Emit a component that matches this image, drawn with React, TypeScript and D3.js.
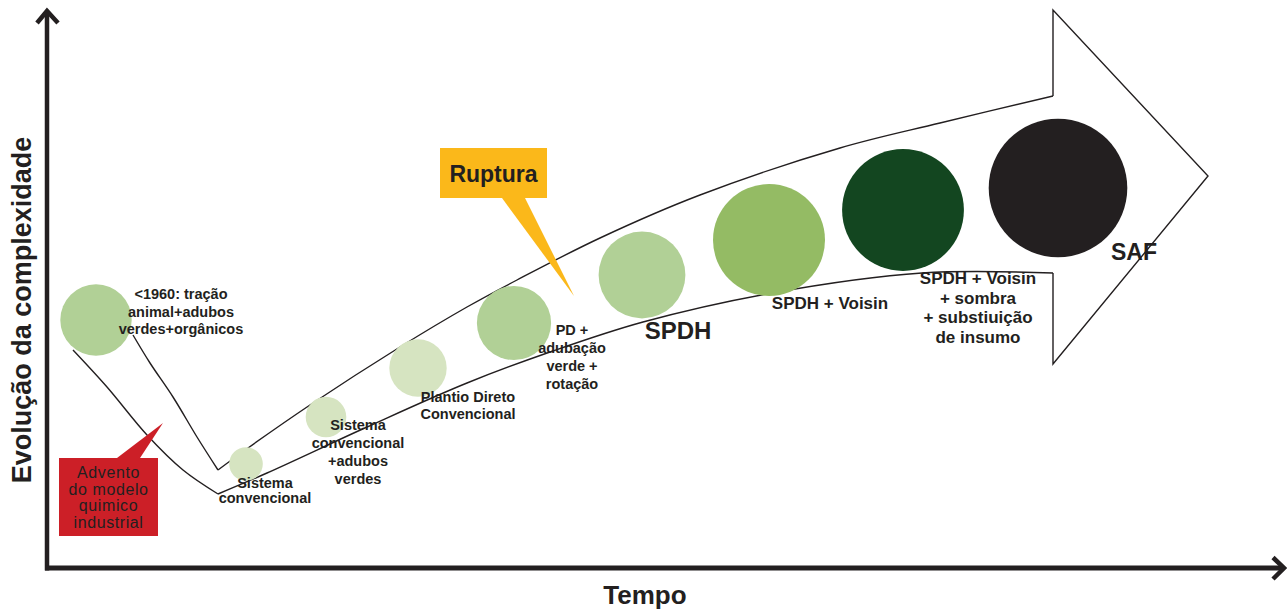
import React from "react";
import * as d3 from "d3";

// ---- Data (time units, complexity units) ----
const stageNames = [
  "<1960",
  "Sistema convencional",
  "Sistema convencional +adubos verdes",
  "Plantio Direto Convencional",
  "PD + adubação verde + rotação",
  "SPDH",
  "SPDH + Voisin",
  "SPDH + Voisin + sombra + substiuição de insumo",
  "SAF",
];
const stageTime = [49, 199, 279, 371, 467, 595, 722, 856, 1011];
const stageComplexity = [250, 106, 153, 202, 247, 295, 330, 360, 382];
const stageSize = [5.1, 2.4, 2.9, 4.1, 5.3, 6.2, 8.0, 8.7, 9.9];
const stageColors = [
  "#b1d096", "#d6e4c1", "#d6e4c1", "#d6e4c1", "#b1d096",
  "#b1d096", "#94bb64", "#134620", "#231f20",
];

// label text lines
const labelLines = [
  ["<1960: tração", "animal+adubos", "verdes+orgânicos"],
  ["Sistema", "convencional"],
  ["Sistema", "convencional", "+adubos", "verdes"],
  ["Plantio Direto", "Convencional"],
  ["PD +", "adubação", "verde +", "rotação"],
  ["SPDH"],
  ["SPDH + Voisin"],
  ["SPDH + Voisin", "+ sombra", "+ substiuição", "de insumo"],
  ["SAF"],
];
// label anchor (time, complexity) of first line center
const labelTime = [134, 218, 311, 421, 525, 631, 783, 931, 1087];
const labelComplexity = [276, 87, 145, 173, 240, 240, 267.5, 292, 318];
const labelFontSize = [14.5, 14.5, 14.5, 14.5, 14.5, 24, 17, 17, 23];
const labelLineHeight = [17.5, 15, 18, 17, 18, 0, 0, 19.5, 0];

// Arrow band outline (time, complexity)
const outerV: [number, number][] = [[26, 220], [60, 183], [100, 135], [136, 100], [171, 76]];
const lowerBand: [number, number][] = [
  [171, 76], [220, 97], [320, 143], [420, 187], [503, 218], [596, 248], [725, 277], [875, 297], [1006, 297],
];
const arrowHead: [number, number][] = [[1006, 297], [1006, 206], [1161, 394], [1006, 560], [1006, 474]];
const upperBand: [number, number][] = [
  [171, 100], [201, 122], [263, 165], [353, 223], [420, 263], [470, 290], [553, 332], [653, 375], [793, 422], [893, 447], [1006, 474],
];
const innerV: [number, number][] = [[86, 235], [103, 207], [126, 173], [150, 133], [171, 100]];

// Callouts
const rupturaBox = [393, 500, 372, 422]; // t0, t1, c0, c1
const rupturaPointer: [number, number][] = [[455, 372], [478, 372], [527, 274]];
const adventoBox = [12, 111, 34, 112];
const adventoPointer: [number, number][] = [[70, 112], [93, 112], [116, 147]];
const adventoLines = ["Advento", "do modelo", "quimico", "industrial"];

const W = 1287;
const H = 609;
const INK = "#231f20";
const FONT = "'Liberation Sans', Arial, Helvetica, sans-serif";

export default function App() {
  const x = d3.scaleLinear().domain([0, 1236]).range([47, 1283]);
  const y = d3.scaleLinear().domain([0, 558]).range([570, 12]);
  const r = d3.scaleLinear().domain([0, 10]).range([0, 70]);

  const curved = d3
    .line<[number, number]>()
    .x((d) => x(d[0]))
    .y((d) => y(d[1]))
    .curve(d3.curveCatmullRom.alpha(0.5));
  const straight = d3
    .line<[number, number]>()
    .x((d) => x(d[0]))
    .y((d) => y(d[1]));

  const x0 = x(0);
  const yBottom = 568;

  return (
    <svg
      width={W}
      height={H}
      style={{ position: "absolute", left: 0, top: 0, background: "#fff" }}
      fontFamily={FONT}
    >
      <rect width={W} height={H} fill="#fff" />

      {/* axes */}
      <line x1={x0} y1={11} x2={x0} y2={yBottom + 2.5} stroke={INK} strokeWidth={4.5} />
      <line x1={x0 - 2} y1={yBottom} x2={1283} y2={yBottom} stroke={INK} strokeWidth={5} />
      <polyline
        points={`${x0 - 10},23 ${x0},11 ${x0 + 11},23`}
        fill="none"
        stroke={INK}
        strokeWidth={4.5}
      />
      <polyline
        points={`1273,557.5 1284,568 1273,579`}
        fill="none"
        stroke={INK}
        strokeWidth={4.5}
      />
      <text
        transform={`translate(22,310) rotate(-90)`}
        textAnchor="middle"
        dominantBaseline="central"
        fontSize={27}
        fontWeight="bold"
        fill={INK}
      >
        Evolução da complexidade
      </text>
      <text x={645} y={604} textAnchor="middle" fontSize={26} fontWeight="bold" fill={INK}>
        Tempo
      </text>

      {/* arrow band outline */}
      <g fill="none" stroke={INK} strokeWidth={1.4} strokeLinejoin="miter">
        <path d={curved(outerV) || ""} />
        <path d={curved(lowerBand) || ""} />
        <path d={straight(arrowHead) || ""} />
        <path d={curved(upperBand) || ""} />
        <path d={curved(innerV) || ""} />
      </g>

      {/* stages */}
      {stageNames.map((name, i) => (
        <circle
          key={name}
          cx={x(stageTime[i])}
          cy={y(stageComplexity[i])}
          r={r(stageSize[i])}
          fill={stageColors[i]}
        />
      ))}

      {/* labels */}
      {labelLines.map((lines, i) => (
        <text
          key={i}
          x={x(labelTime[i])}
          y={y(labelComplexity[i])}
          textAnchor="middle"
          dominantBaseline="central"
          fontSize={labelFontSize[i]}
          fontWeight="bold"
          fill={INK}
        >
          {lines.map((ln, j) => (
            <tspan key={j} x={x(labelTime[i])} y={y(labelComplexity[i]) + j * labelLineHeight[i]}>
              {ln}
            </tspan>
          ))}
        </text>
      ))}

      {/* Ruptura callout */}
      <path d={(straight(rupturaPointer) || "") + "Z"} fill="#fbb81a" />
      <rect
        x={x(rupturaBox[0])}
        y={y(rupturaBox[3])}
        width={x(rupturaBox[1]) - x(rupturaBox[0])}
        height={y(rupturaBox[2]) - y(rupturaBox[3])}
        fill="#fbb81a"
      />
      <text
        x={(x(rupturaBox[0]) + x(rupturaBox[1])) / 2}
        y={182}
        textAnchor="middle"
        fontSize={23}
        fontWeight="bold"
        fill={INK}
      >
        Ruptura
      </text>

      {/* Advento callout */}
      <path d={(straight(adventoPointer) || "") + "Z"} fill="#cc1f27" />
      <rect
        x={x(adventoBox[0])}
        y={y(adventoBox[3])}
        width={x(adventoBox[1]) - x(adventoBox[0])}
        height={y(adventoBox[2]) - y(adventoBox[3])}
        fill="#cc1f27"
      />
      <text textAnchor="middle" dominantBaseline="central" fontSize={16} fill={INK} letterSpacing={0.6}>
        {adventoLines.map((ln, j) => (
          <tspan key={j} x={(x(adventoBox[0]) + x(adventoBox[1])) / 2} y={472 + j * 16.5}>
            {ln}
          </tspan>
        ))}
      </text>
    </svg>
  );
}
